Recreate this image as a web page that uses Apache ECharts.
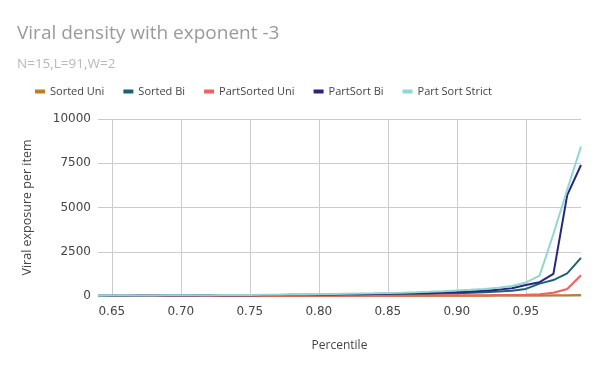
<!DOCTYPE html>
<html>
<head>
<meta charset="utf-8">
<script src="https://cdn.jsdelivr.net/npm/echarts@6/dist/echarts.min.js"></script>
<style>
  html, body { margin: 0; padding: 0; background: #fff; }
  #chart { width: 600px; height: 371px; }
</style>
</head>
<body>
<div id="chart"></div>
<script>
  // percentiles 0.64 .. 0.99
  var percentiles = ['0.64', '0.65', '0.66', '0.67', '0.68', '0.69', '0.70', '0.71', '0.72', '0.73',
    '0.74', '0.75', '0.76', '0.77', '0.78', '0.79', '0.80', '0.81', '0.82', '0.83',
    '0.84', '0.85', '0.86', '0.87', '0.88', '0.89', '0.90', '0.91', '0.92', '0.93',
    '0.94', '0.95', '0.96', '0.97', '0.98', '0.99'];

  var sortedUni = [2, 2, 3, 3, 3, 4, 4, 4, 5, 5, 5, 6, 6, 7, 7, 8, 8, 9, 10, 10,
    11, 12, 13, 14, 15, 16, 18, 19, 21, 23, 25, 28, 32, 38, 45, 60];
  var sortedBi = [10, 12, 13, 15, 16, 18, 20, 22, 24, 26, 28, 31, 34, 37, 40, 44, 48, 53, 58, 64,
    70, 78, 88, 100, 115, 135, 160, 185, 215, 250, 300, 400, 700, 900, 1280, 2150];
  var partSortedUni = [3, 3, 4, 4, 5, 5, 6, 6, 7, 8, 9, 10, 11, 12, 13, 14, 16, 18, 20, 22,
    24, 26, 28, 31, 34, 37, 40, 44, 48, 54, 60, 70, 100, 180, 400, 1170];
  var partSortBi = [15, 17, 19, 22, 24, 27, 30, 33, 36, 40, 44, 48, 53, 58, 64, 70, 77, 85, 94, 104,
    115, 128, 142, 158, 176, 198, 225, 260, 300, 360, 440, 620, 780, 1250, 5700, 7400];
  var partSortStrict = [20, 23, 26, 29, 32, 36, 40, 44, 48, 53, 58, 63, 69, 75, 82, 90, 100, 110, 122, 135,
    150, 168, 188, 210, 235, 265, 310, 350, 400, 470, 560, 760, 1150, 3500, 6000, 8450];

  var yTicks = [0, 2500, 5000, 7500, 10000];

  var seriesNames = ['Sorted Uni', 'Sorted Bi', 'PartSorted Uni', 'PartSort Bi', 'Part Sort Strict'];
  var seriesColors = ['#bd7d2a', '#1c6272', '#f45f5f', '#26267e', '#8fd6d4'];
  var seriesData = [sortedUni, sortedBi, partSortedUni, partSortBi, partSortStrict];

  var labelEvery = function (index) { return index % 5 === 1; };

  var option = {
    animation: false,
    textStyle: { fontFamily: 'Open Sans' },
    title: {
      text: 'Viral density with exponent -3',
      subtext: 'N=15,L=91,W=2',
      left: 12,
      top: 19,
      itemGap: 14,
      textStyle: { color: '#9a9a9a', fontSize: 19, fontWeight: 'normal', fontFamily: 'Open Sans' },
      subtextStyle: { color: '#b8b8b8', fontSize: 13.5, fontFamily: 'Open Sans' }
    },
    legend: {
      top: 81,
      left: 30,
      itemWidth: 10,
      itemHeight: 4,
      itemGap: 19,
      icon: 'rect',
      textStyle: { color: '#444', fontSize: 11, fontFamily: 'Open Sans' },
      data: seriesNames
    },
    grid: {
      left: 98,
      right: 19,
      top: 119,
      bottom: 75
    },
    xAxis: {
      type: 'category',
      boundaryGap: false,
      data: percentiles,
      name: 'Percentile',
      nameLocation: 'middle',
      nameGap: 44,
      nameTextStyle: { color: '#444', fontSize: 12, fontFamily: 'Open Sans' },
      axisLine: { show: false },
      axisTick: { show: false },
      axisLabel: {
        interval: labelEvery,
        color: '#444',
        fontSize: 12,
        margin: 10,
        fontFamily: 'DejaVu Sans'
      },
      splitLine: {
        show: true,
        interval: labelEvery,
        lineStyle: { color: '#cccccc', width: 1 }
      }
    },
    yAxis: {
      type: 'value',
      min: yTicks[0],
      max: yTicks[yTicks.length - 1],
      interval: 2500,
      name: 'Viral exposure per item',
      nameLocation: 'middle',
      nameGap: 64,
      nameTextStyle: { color: '#444', fontSize: 12.5, fontFamily: 'Open Sans' },
      axisLine: { show: false },
      axisTick: { show: false },
      axisLabel: {
        color: '#444',
        fontSize: 12,
        margin: 7,
        fontFamily: 'DejaVu Sans',
        formatter: function (v) { return String(v); }
      },
      splitLine: { lineStyle: { color: '#cccccc', width: 1 } }
    },
    series: seriesNames.map(function (name, i) {
      return {
        name: name,
        type: 'line',
        data: seriesData[i],
        showSymbol: false,
        symbol: 'none',
        lineStyle: { width: 2, color: seriesColors[i] },
        itemStyle: { color: seriesColors[i] }
      };
    })
  };

  var myChart = echarts.init(document.getElementById('chart'));
  myChart.setOption(option);
</script>
</body>
</html>
